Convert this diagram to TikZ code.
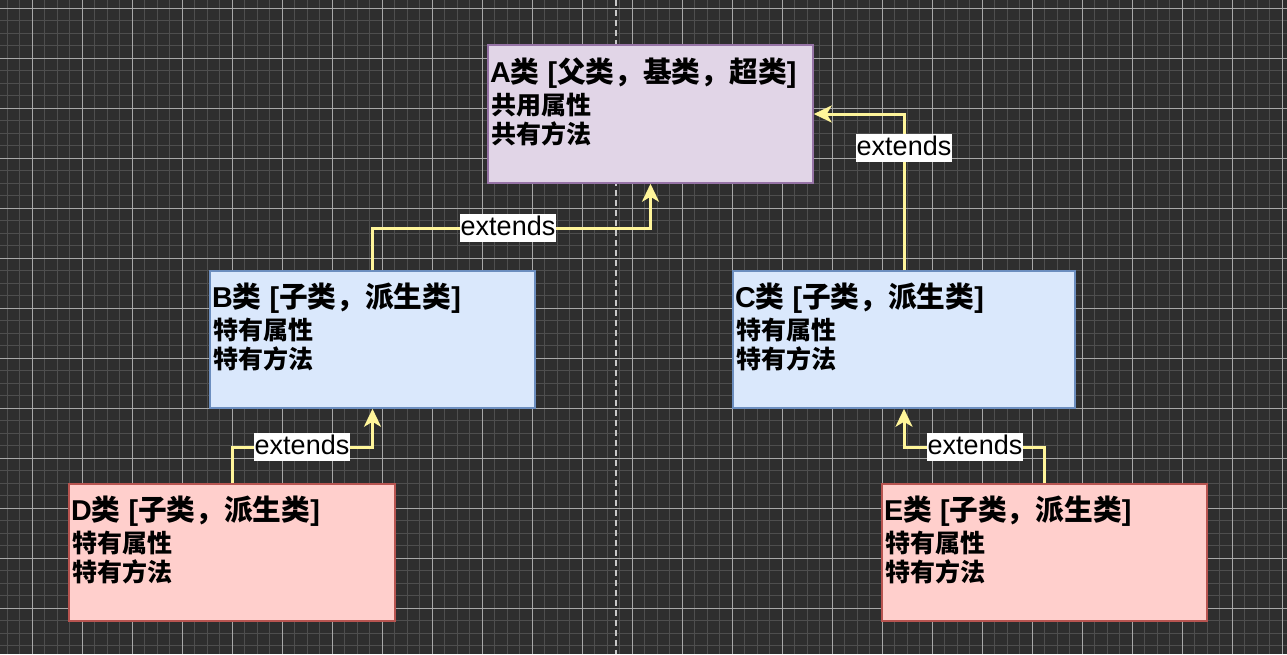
\documentclass[tikz,border=0pt]{standalone}
\usepackage{fontspec}
\setmainfont{Liberation Sans}
\newfontfamily\cjk{Noto Sans CJK SC}
\usetikzlibrary{arrows.meta}
\definecolor{bgc}{HTML}{2E2E2E}
\definecolor{minorc}{HTML}{4E4E4E}
\definecolor{majorc}{HTML}{A8A8A8}
\definecolor{dashc}{HTML}{C8C8C8}
\definecolor{afill}{HTML}{E1D5E7}
\definecolor{adraw}{HTML}{9673A6}
\definecolor{bfill}{HTML}{DAE8FC}
\definecolor{bdraw}{HTML}{6C8EBF}
\definecolor{dfill}{HTML}{FFCFCC}
\definecolor{ddraw}{HTML}{B85450}
\definecolor{arrc}{HTML}{FFF59A}
\newcommand\latw[1]{{\rmfamily\bfseries #1}}
\newcommand\fwc{\makebox[28.7pt][l]{，}}
\tikzset{
  cls/.style={draw, line width=1.5pt, inner sep=0pt},
  clsA/.style={cls, fill=afill, draw=adraw},
  clsB/.style={cls, fill=bfill, draw=bdraw},
  clsD/.style={cls, fill=dfill, draw=ddraw},
  txt/.style={anchor=base west, inner sep=0pt, font=\cjk\bfseries\fontsize{25}{29}\selectfont, text=black},
  ttl/.style={txt, font=\cjk\bfseries\fontsize{28.7}{30}\selectfont},
  ext/.style={fill=white, text=black, inner xsep=1pt, inner ysep=1pt, font=\fontsize{27}{30}\selectfont, text height=20pt, text depth=6pt},
  inh/.style={draw=arrc, line width=3pt, -{Stealth[length=18pt, width=17pt, inset=5pt]}},
}
\begin{document}
\begin{tikzpicture}[x=1pt, y=-1pt]
\fill[bgc] (0,0) rectangle (1287,654);
\useasboundingbox (0,0) rectangle (1287,654);
% minor grid
\foreach \i in {0,...,102} \draw[minorc, line width=1pt] ({7+12.5*\i},0) -- ({7+12.5*\i},654);
\foreach \j in {0,...,52} \draw[minorc, line width=1pt] (0,{8+12.5*\j}) -- (1287,{8+12.5*\j});
% major grid
\foreach \i in {0,...,25} \draw[majorc, line width=1pt] ({32+50*\i},0) -- ({32+50*\i},654);
\foreach \j in {0,...,12} \draw[majorc, line width=1pt] (0,{8+50*\j}) -- (1287,{8+50*\j});
% dashed centre line
\draw[dashc, line width=1.5pt, dash pattern=on 6pt off 4pt] (616,0) -- (616,654);

% class boxes
\node[clsA, minimum width=325pt, minimum height=138pt] (A) at (650.5,114) {};
\node[clsB, minimum width=325pt, minimum height=137pt] (B) at (372.5,339.5) {};
\node[clsB, minimum width=342pt, minimum height=137pt] (C) at (904,339.5) {};
\node[clsD, minimum width=326pt, minimum height=137pt] (D) at (232,552.5) {};
\node[clsD, minimum width=325pt, minimum height=137pt] (E) at (1044.5,552.5) {};

% texts
\node[ttl] (A1) at (490,82) {\latw{A}类\latw{ [}父类\fwc 基类\fwc 超类\latw{]}};
\node[txt] (A2) at (491,114) {共用属性};
\node[txt] (A3) at (491,143) {共有方法};
\node[ttl] (B1) at (212,307) {\latw{B}类\latw{ [}子类\fwc 派生类\latw{]}};
\node[txt] (B2) at (213,339) {特有属性};
\node[txt] (B3) at (213,368) {特有方法};
\node[ttl] (C1) at (735,307) {\latw{C}类\latw{ [}子类\fwc 派生类\latw{]}};
\node[txt] (C2) at (736,339) {特有属性};
\node[txt] (C3) at (736,368) {特有方法};
\node[ttl] (D1) at (71,520) {\latw{D}类\latw{ [}子类\fwc 派生类\latw{]}};
\node[txt] (D2) at (72,552) {特有属性};
\node[txt] (D3) at (72,581) {特有方法};
\node[ttl] (E1) at (884,520) {\latw{E}类\latw{ [}子类\fwc 派生类\latw{]}};
\node[txt] (E2) at (885,552) {特有属性};
\node[txt] (E3) at (885,581) {特有方法};

% connectors
\coordinate (jBA) at (0,228);
\coordinate (jDB) at (0,447);
\draw[inh] (B.north) -- (B.north |- jBA) -| (A.south);
\draw[inh] (C.north) |- (A.east);
\draw[inh] (D.north) -- (D.north |- jDB) -| (B.south);
\draw[inh] (E.north) -- (E.north |- jDB) -| (C.south);

% labels
\node[ext] (L1) at (508,228) {extends};
\node[ext] (L2) at (904,148) {extends};
\node[ext] (L3) at (302,447) {extends};
\node[ext] (L4) at (975,447) {extends};
\end{tikzpicture}
\end{document}
